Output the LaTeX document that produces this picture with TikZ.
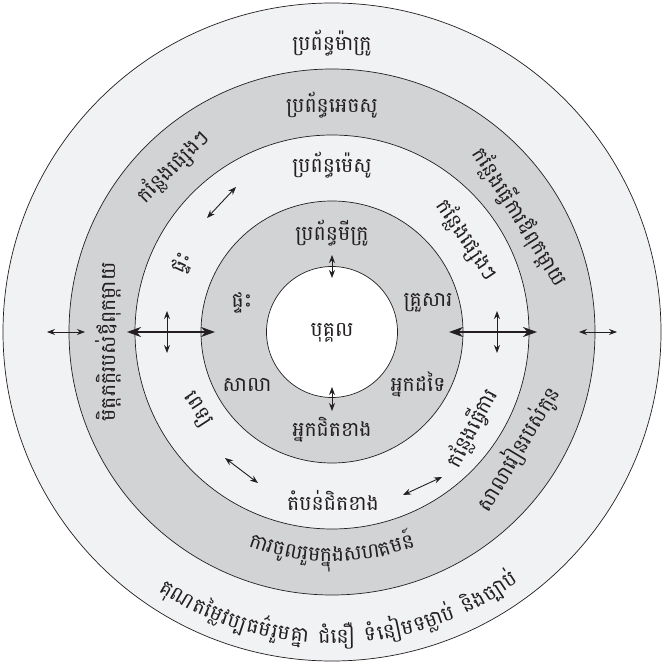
\documentclass[tikz,border=0pt]{standalone}
\usepackage{fontspec}
\newfontfamily\kh[Script=Khmer]{Battambang}
\usetikzlibrary{arrows.meta}
\definecolor{bandgray}{HTML}{D2D3D5}
\definecolor{lightbg}{HTML}{F1F2F4}
\definecolor{linec}{HTML}{231F20}
\newcommand\khfont{\kh\fontsize{20.5}{23}\selectfont}
\newsavebox\chunkbox
\makeatletter
% measure chunks before the picture: stores \cw<prefix><i> (pt, gap #3 added) and \cwtot<prefix>
\newcommand\measurechunks[3]{%
  \gdef\tmptot{0}%
  \foreach \chunk [count=\i] in {#2}{%
    \setbox\chunkbox=\hbox{\khfont\chunk}%
    \pgfmathsetmacro\tmpone{\strip@pt\wd\chunkbox+#3}%
    \expandafter\xdef\csname cw#1\i\endcsname{\tmpone}%
    \pgfmathsetmacro\tmpsum{\tmptot+\tmpone}%
    \xdef\tmptot{\tmpsum}%
  }%
  \expandafter\xdef\csname cwtot#1\endcsname{\tmptot}%
}
% offset of the glyph centre above the baseline
\newcommand\measureoffset{%
  \setbox\chunkbox=\hbox{\khfont ក}%
  \pgfmathsetmacro\tmpoff{(\strip@pt\ht\chunkbox-\strip@pt\dp\chunkbox)/2}%
  \xdef\glyphoff{\tmpoff}%
}
\makeatother
% curved text along the bottom of a circle (tops toward centre)
% #1 radius of the glyph centres, #2 centre angle, #3 chunk list, #4 name prefix
\newcommand\bottomarc[4]{%
  \pgfmathsetmacro\baserad{#1+\glyphoff}%
  \pgfmathsetmacro\startang{#2-\csname cwtot#4\endcsname/\baserad*28.64789}%
  \xdef\curang{\startang}%
  \foreach \chunk [count=\i] in {#3}{%
    \pgfmathsetmacro\halfang{\csname cw#4\i\endcsname/\baserad*28.64789}%
    \pgfmathsetmacro\midang{\curang+\halfang}%
    \node[lab, rotate=\midang+90, anchor=base] (#4-\i) at (\midang:\baserad) {\chunk};
    \pgfmathsetmacro\nextang{\curang+2*\halfang}%
    \xdef\curang{\nextang}%
  }%
}
\tikzset{
  lab/.style={font=\khfont, inner sep=0pt, text=linec},
  ring/.style={draw=linec, line width=0.7pt},
  thinarrow/.style={draw=linec, line width=0.9pt, {Stealth[length=8pt,width=6pt]}-{Stealth[length=8pt,width=6pt]}},
  boldarrow/.style={draw=linec, line width=2pt, {Stealth[length=14pt,width=10pt]}-{Stealth[length=14pt,width=10pt]}}
}
\begin{document}%
\measureoffset%
\measurechunks{comm}{ការ,ចូល,រួម,ក្នុង,សហ,គមន៍}{0}%
\measurechunks{values}{គុណ,តម្លៃ,វប្ប,ធម៌,រួម,គ្នា,~,ជំនឿ,~,ទំ,នៀម,ទម្លាប់,~,និង,ច្បាប់}{1.5}%
\begin{tikzpicture}[x=1pt,y=1pt]
\useasboundingbox (-332,-331) rectangle (330,332);
\fill[white] (-332,-331) rectangle (330,332);
% rings
\draw[ring, fill=lightbg] (0,0) circle (329);
\draw[ring, fill=bandgray] (0,0) circle (263);
\draw[ring, fill=lightbg] (0,0) circle (197);
\draw[ring, fill=bandgray] (0,0) circle (131);
\draw[ring, fill=white] (0,0) circle (65.5);

% ring titles
\node[lab] (macro) at (0,289) {ប្រព័ន្ធម៉ាក្រូ};
\node[lab] (exo) at (0,227) {ប្រព័ន្ធអេចសូ};
\node[lab] (meso) at (0,167) {ប្រព័ន្ធម៉េសូ};
\node[lab] (micro) at (0,99) {ប្រព័ន្ធមីក្រូ};
\node[lab] (person) at (0,-1) {បុគ្គល};

% microsystem
\node[lab] (home) at (-90,29) {ផ្ទះ};
\node[lab] (family) at (96,29) {គ្រួសារ};
\node[lab] (school) at (-85,-53) {សាលា};
\node[lab] (others) at (86,-53) {អ្នកដទៃ};
\node[lab] (neighbors) at (0,-98) {អ្នកជិតខាង};

% mesosystem band
\node[lab, rotate=65] (home2) at (-149,69) {ផ្ទះ};
\node[lab, rotate=-57] (hospital) at (-135,-78) {ពេទ្យ};
\node[lab, rotate=62] (work) at (140,-96) {កន្លែងធ្វើការ};
\node[lab, rotate=-56] (various) at (135,92) {កន្លែងផ្សេងៗ};
\node[lab] (neighborhood) at (1,-168) {តំបន់ជិតខាង};

% exosystem band
\node[lab, rotate=45] (various2) at (-159,165) {កន្លែងផ្សេងៗ};
\node[lab, rotate=-58] (parentwork) at (188,115) {កន្លែងធ្វើការឪពុកម្តាយ};
\node[lab, rotate=90] (friends) at (-224,-10) {មិត្តភក្តិរបស់ឪពុកម្តាយ};
\node[lab, rotate=59] (childschool) at (186,-117) {សាលារៀនរបស់កូន};
\bottomarc{223}{270}{ការ,ចូល,រួម,ក្នុង,សហ,គមន៍}{comm}

% macrosystem
\bottomarc{305}{271.5}{គុណ,តម្លៃ,វប្ប,ធម៌,រួម,គ្នា,~,ជំនឿ,~,ទំ,នៀម,ទម្លាប់,~,និង,ច្បាប់}{values}

% arrow end points
\coordinate (sl1) at (-285,0); \coordinate (sl2) at (-247,0);
\coordinate (sr1) at (247,0); \coordinate (sr2) at (285,0);
\coordinate (bl1) at (-205,0); \coordinate (bl2) at (-117,0);
\coordinate (br1) at (117,0); \coordinate (br2) at (205,0);
\coordinate (vl1) at (-165,21); \coordinate (vl2) at (-165,-21);
\coordinate (vr1) at (165,21); \coordinate (vr2) at (165,-21);
\coordinate (vt1) at (0,77); \coordinate (vt2) at (0,54);
\coordinate (vb1) at (0,-55); \coordinate (vb2) at (0,-79);
\coordinate (dul1) at (-125,114); \coordinate (dul2) at (-96,145);
\coordinate (dll1) at (-107,-126); \coordinate (dll2) at (-74,-151);
\coordinate (dlr1) at (71,-163); \coordinate (dlr2) at (110,-145);

\draw[thinarrow] (sl1) -- (sl2);
\draw[thinarrow] (sr1) -- (sr2);
\draw[boldarrow] (bl1) -- (bl2);
\draw[boldarrow] (br1) -- (br2);
\draw[thinarrow] (vl1) -- (vl2);
\draw[thinarrow] (vr1) -- (vr2);
\draw[thinarrow] (vt1) -- (vt2);
\draw[thinarrow] (vb1) -- (vb2);
\draw[thinarrow] (dul1) -- (dul2);
\draw[thinarrow] (dll1) -- (dll2);
\draw[thinarrow] (dlr1) -- (dlr2);
\end{tikzpicture}
\end{document}
